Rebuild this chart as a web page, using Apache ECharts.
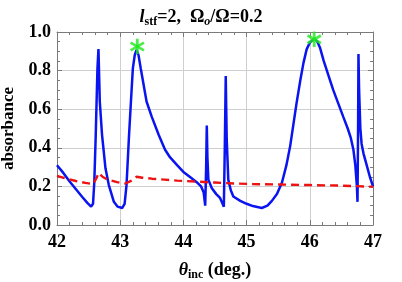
<!DOCTYPE html>
<html><head><meta charset="utf-8">
<script src="https://cdn.jsdelivr.net/npm/echarts@6/dist/echarts.min.js"></script>
<style>html,body{margin:0;padding:0;background:#fff}#c{width:402px;height:282px}</style>
</head><body><div id="c"></div>
<script>
const xTicks = [42, 43, 44, 45, 46, 47];
const yTicks = ['0.0', '0.2', '0.4', '0.6', '0.8', '1.0'];
const blueX = [42.00,42.10,42.20,42.30,42.40,42.48,42.54,42.57,42.59,42.613,42.64,42.656,42.677,42.713,42.767,42.82,42.90,42.96,43.03,43.07,43.10,43.14,43.17,43.20,43.23,43.258,43.29,43.326,43.417,43.50,43.61,43.71,43.79,43.90,44.00,44.10,44.21,44.28,44.32,44.345,44.36,44.37,44.38,44.395,44.45,44.52,44.58,44.62,44.64,44.655,44.67,44.685,44.71,44.75,44.79,44.90,45.00,45.10,45.24,45.33,45.40,45.48,45.56,45.63,45.69,45.74,45.79,45.85,45.90,45.95,46.00,46.07,46.12,46.16,46.22,46.30,46.37,46.45,46.53,46.60,46.65,46.69,46.72,46.745,46.755,46.765,46.77,46.78,46.80,46.82,46.85,46.90,46.95,47.00];
const blueY = [0.31,0.27,0.225,0.185,0.145,0.115,0.095,0.11,0.22,0.466,0.81,0.912,0.64,0.466,0.294,0.207,0.12,0.095,0.088,0.11,0.207,0.466,0.64,0.81,0.88,0.907,0.88,0.81,0.64,0.56,0.466,0.39,0.35,0.31,0.275,0.25,0.222,0.20,0.17,0.10,0.30,0.515,0.35,0.235,0.19,0.16,0.14,0.11,0.095,0.40,0.772,0.45,0.235,0.18,0.148,0.125,0.11,0.098,0.088,0.10,0.125,0.16,0.22,0.31,0.41,0.52,0.63,0.75,0.84,0.91,0.945,0.965,0.95,0.92,0.85,0.77,0.70,0.63,0.56,0.50,0.45,0.39,0.31,0.20,0.12,0.55,0.886,0.70,0.50,0.42,0.37,0.31,0.25,0.20];
const redX = [42.00,42.15,42.30,42.45,42.57,42.62,42.66,42.72,42.80,42.95,43.08,43.18,43.26,43.35,43.50,43.70,43.90,44.20,44.50,44.80,45.10,45.50,46.00,46.50,47.00];
const redY = [0.255,0.24,0.228,0.218,0.212,0.24,0.27,0.25,0.235,0.222,0.215,0.23,0.25,0.245,0.24,0.235,0.23,0.225,0.22,0.215,0.212,0.21,0.207,0.204,0.198];
const starX = [43.27, 46.07];
const starY = [0.925, 0.962];

const zip = (a, b) => a.map((v, i) => [v, b[i]]);
const serif = '"Liberation Serif", "DejaVu Serif", serif';
const frame = '#7a7a7a';
const baseAxis = {
  type: 'value',
  axisLine: { show: true, onZero: false, lineStyle: { color: frame, width: 1 } },
  axisTick: { show: true, inside: true, length: 5, lineStyle: { color: frame } },
  minorTick: { show: true, length: 3, lineStyle: { color: frame } },
  splitLine: { show: false },
  axisLabel: { show: false }
};
const starSeries = [0, 60, -60].map(r => ({
  type: 'scatter', data: zip(starX, starY), symbol: 'rect', symbolSize: [2.8, 15.5],
  symbolRotate: r, itemStyle: { color: '#1ee81e' }, z: 10, silent: true
}));

const chart = echarts.init(document.getElementById('c'), null, { renderer: 'canvas' });
chart.setOption({
  animation: false,
  title: {
    left: 'center', top: 1,
    text: '{l|l}{sub|stf}{n|=2,  Ω}{subi|o}{n|/Ω=0.2}',
    textStyle: {
      rich: {
        l: { fontFamily: serif, fontSize: 18, fontWeight: 'bold', fontStyle: 'italic', lineHeight: 22, color: '#000' },
        n: { fontFamily: serif, fontSize: 18, fontWeight: 'bold', lineHeight: 22, color: '#000' },
        sub: { fontFamily: serif, fontSize: 12, fontWeight: 'bold', verticalAlign: 'bottom', lineHeight: 14, color: '#000' },
        subi: { fontFamily: serif, fontSize: 12, fontWeight: 'bold', fontStyle: 'italic', verticalAlign: 'bottom', lineHeight: 14, color: '#000' }
      }
    }
  },
  grid: { left: 57, right: 29, top: 32, bottom: 57, outerBoundsMode: 'none', containLabel: false },
  xAxis: [
    Object.assign({}, baseAxis, {
      position: 'bottom', min: 42, max: 47, interval: 1,
      minorTick: { show: true, splitNumber: 5, length: 3, lineStyle: { color: frame } },
      splitLine: { show: true, lineStyle: { color: '#cfcfcf', width: 1 } },
      axisLabel: { show: true, margin: 8, color: '#000', fontFamily: serif, fontSize: 18, fontWeight: 'bold',
        formatter: v => String(xTicks.find(t => Math.abs(t - v) < 1e-6)) },
      name: '{th|θ}{sub|inc}{n| (deg.)}', nameLocation: 'middle', nameGap: 34,
      nameTextStyle: { color: '#000', rich: {
        th: { fontFamily: serif, fontSize: 18, fontWeight: 'bold', fontStyle: 'italic', lineHeight: 22, color: '#000' },
        n: { fontFamily: serif, fontSize: 18, fontWeight: 'bold', lineHeight: 22, color: '#000' },
        sub: { fontFamily: serif, fontSize: 12, fontWeight: 'bold', verticalAlign: 'bottom', lineHeight: 14, color: '#000' }
      } }
    }),
    Object.assign({}, baseAxis, {
      position: 'top', min: 42, max: 47, interval: 1,
      minorTick: { show: true, splitNumber: 5, length: 3, lineStyle: { color: frame } }
    })
  ],
  yAxis: [
    Object.assign({}, baseAxis, {
      position: 'left', min: 0, max: 1, interval: 0.2,
      minorTick: { show: true, splitNumber: 4, length: 3, lineStyle: { color: frame } },
      splitLine: { show: true, lineStyle: { color: '#cfcfcf', width: 1 } },
      axisLabel: { show: true, margin: 6, color: '#000', fontFamily: serif, fontSize: 18, fontWeight: 'bold',
        formatter: v => yTicks[Math.round(v * 5)] },
      name: 'absorbance', nameLocation: 'middle', nameGap: 38, nameRotate: 90,
      nameTextStyle: { color: '#000', fontFamily: serif, fontSize: 17, fontWeight: 'bold' }
    }),
    Object.assign({}, baseAxis, {
      position: 'right', min: 0, max: 1, interval: 0.2,
      minorTick: { show: true, splitNumber: 4, length: 3, lineStyle: { color: frame } }
    })
  ],
  series: [
    { type: 'line', data: zip(blueX, blueY), showSymbol: false, smooth: false,
      lineStyle: { color: '#0a14f0', width: 2.5 }, z: 3 },
    { type: 'line', data: zip(redX, redY), showSymbol: false, smooth: false,
      lineStyle: { color: '#ee1111', width: 2.4, type: [8, 5] }, z: 4 }
  ].concat(starSeries)
});
</script></body></html>
